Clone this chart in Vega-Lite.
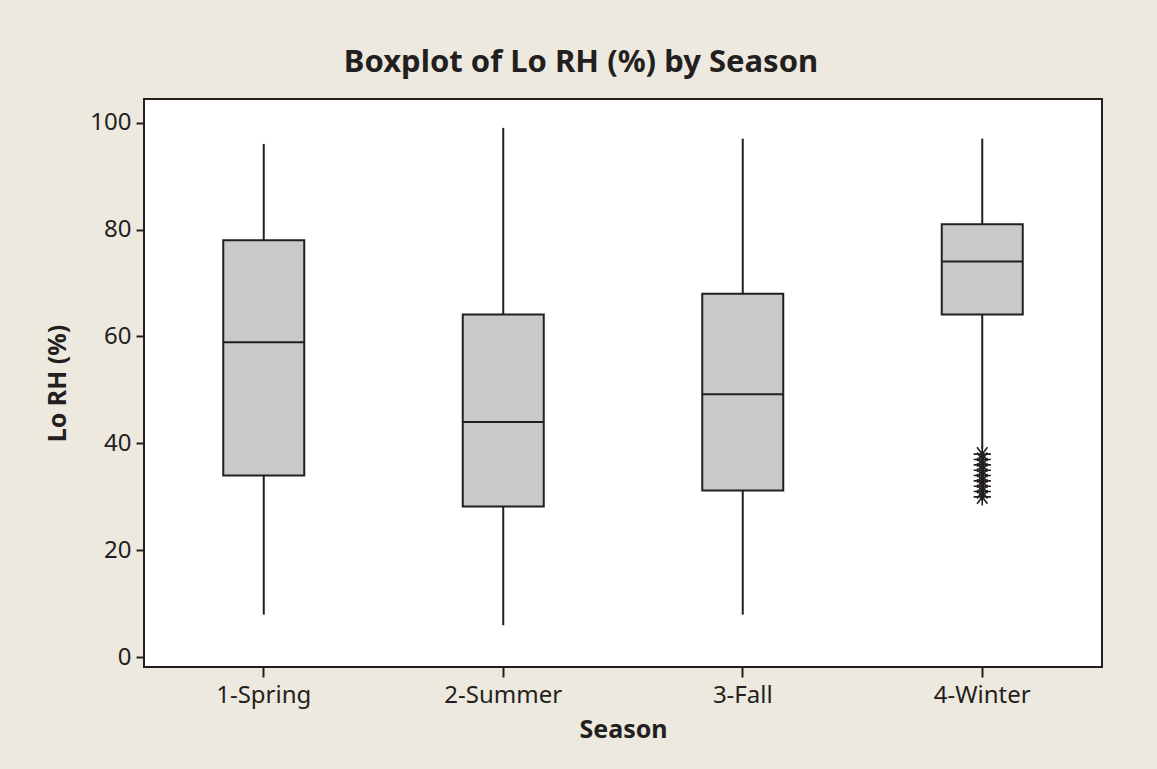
{
  "$schema": "https://vega.github.io/schema/vega-lite/v6.json",
  "width": 958,
  "height": 568,
  "autosize": {"type": "none"},
  "padding": {"left": 144, "top": 99, "right": 55, "bottom": 102},
  "background": "#EDE9DF",
  "title": {
    "text": "Boxplot of Lo RH (%) by Season",
    "font": "Noto Sans",
    "fontSize": 31,
    "fontWeight": "bold",
    "color": "#231F20",
    "anchor": "middle",
    "dx": -42,
    "offset": 20
  },
  "config": {
    "view": {"fill": "white", "stroke": "#231F20", "strokeWidth": 2},
    "axis": {
      "labelFont": "Noto Sans",
      "labelFontSize": 24,
      "labelColor": "#231F20",
      "titleFont": "Noto Sans",
      "titleFontSize": 25,
      "titleFontWeight": "bold",
      "titleColor": "#231F20",
      "tickColor": "#231F20",
      "tickWidth": 2,
      "domain": false,
      "grid": false
    }
  },
  "datasets": {
    "boxes": [
      {"season": "1-Spring", "lower": 8, "q1": 34, "median": 58.9, "q3": 78, "upper": 96},
      {"season": "2-Summer", "lower": 6, "q1": 28.2, "median": 44, "q3": 64.1, "upper": 99},
      {"season": "3-Fall", "lower": 8, "q1": 31.2, "median": 49.2, "q3": 68, "upper": 97},
      {"season": "4-Winter", "lower": 39, "q1": 64.1, "median": 74, "q3": 81, "upper": 97}
    ],
    "outliers": [
      {"season": "4-Winter", "value": 38},
      {"season": "4-Winter", "value": 37},
      {"season": "4-Winter", "value": 36},
      {"season": "4-Winter", "value": 35},
      {"season": "4-Winter", "value": 34},
      {"season": "4-Winter", "value": 33},
      {"season": "4-Winter", "value": 32},
      {"season": "4-Winter", "value": 31},
      {"season": "4-Winter", "value": 30}
    ]
  },
  "encoding": {
    "x": {
      "field": "season",
      "type": "nominal",
      "scale": {"paddingInner": 0, "paddingOuter": 0},
      "axis": {
        "title": "Season",
        "labelAngle": 0,
        "tickSize": 10,
        "labelPadding": 6,
        "titleX": 479,
        "titleY": 62,
        "titleBaseline": "middle"
      }
    }
  },
  "layer": [
    {
      "data": {"name": "boxes"},
      "mark": {"type": "rule", "color": "#231F20", "strokeWidth": 2},
      "encoding": {
        "y": {
          "field": "lower",
          "type": "quantitative",
          "scale": {"domain": [-1.8, 104.4], "nice": false, "zero": false},
          "axis": {
            "title": "Lo RH (%)",
            "values": [0, 20, 40, 60, 80, 100],
            "tickSize": 8,
            "labelPadding": 5,
            "titleX": -87,
            "titleY": 284,
            "titleAngle": -90,
            "titleAlign": "center",
            "titleBaseline": "middle"
          }
        },
        "y2": {"field": "q1"}
      }
    },
    {
      "data": {"name": "boxes"},
      "mark": {"type": "rule", "color": "#231F20", "strokeWidth": 2},
      "encoding": {
        "y": {"field": "q3", "type": "quantitative"},
        "y2": {"field": "upper"}
      }
    },
    {
      "data": {"name": "boxes"},
      "mark": {"type": "bar", "size": 81, "fill": "#C8C9CB", "stroke": "#231F20", "strokeWidth": 2},
      "encoding": {
        "y": {"field": "q1", "type": "quantitative"},
        "y2": {"field": "q3"}
      }
    },
    {
      "data": {"name": "boxes"},
      "mark": {"type": "tick", "size": 81, "thickness": 2, "color": "#231F20", "opacity": 1},
      "encoding": {
        "y": {"field": "median", "type": "quantitative"}
      }
    },
    {
      "data": {"name": "outliers"},
      "mark": {
        "type": "point",
        "shape": "M-1,0L1,0M-0.6,-0.8L0.6,0.8M-0.6,0.8L0.6,-0.8M0,-1L0,1",
        "filled": false,
        "stroke": "#231F20",
        "strokeWidth": 1.6,
        "size": 300,
        "opacity": 1
      },
      "encoding": {
        "y": {"field": "value", "type": "quantitative"}
      }
    }
  ]
}
